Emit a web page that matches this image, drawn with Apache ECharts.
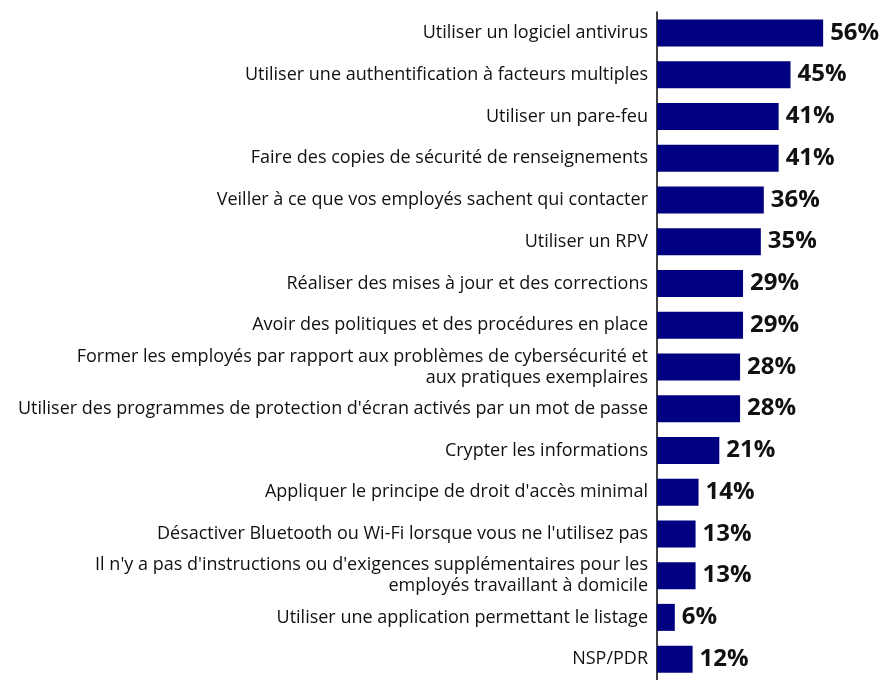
<!DOCTYPE html>
<html>
<head>
<meta charset="utf-8">
<script src="https://cdn.jsdelivr.net/npm/echarts@6/dist/echarts.min.js"></script>
<style>
  html, body { margin: 0; padding: 0; background: #fff; }
  #chart { width: 883px; height: 680px; }
</style>
</head>
<body>
<div id="chart"></div>
<script>
const categories = [
  "Utiliser un logiciel antivirus",
  "Utiliser une authentification à facteurs multiples",
  "Utiliser un pare-feu",
  "Faire des copies de sécurité de renseignements",
  "Veiller à ce que vos employés sachent qui contacter",
  "Utiliser un RPV",
  "Réaliser des mises à jour et des corrections",
  "Avoir des politiques et des procédures en place",
  "Former les employés par rapport aux problèmes de cybersécurité et\naux pratiques exemplaires",
  "Utiliser des programmes de protection d'écran activés par un mot de passe",
  "Crypter les informations",
  "Appliquer le principe de droit d'accès minimal",
  "Désactiver Bluetooth ou Wi-Fi lorsque vous ne l'utilisez pas",
  "Il n'y a pas d'instructions ou d'exigences supplémentaires pour les\nemployés travaillant à domicile",
  "Utiliser une application permettant le listage",
  "NSP/PDR"
];
const values = [56, 45, 41, 41, 36, 35, 29, 29, 28, 28, 21, 14, 13, 13, 6, 12];

const chart = echarts.init(document.getElementById("chart"));

const option = {
  animation: false,
  grid: {
    left: 657,
    top: 12,
    width: 178,
    height: 677
  },
  xAxis: {
    type: "value",
    min: 0,
    max: 60,
    show: false
  },
  yAxis: {
    type: "category",
    data: categories,
    inverse: true,
    axisLine: { show: true, lineStyle: { color: "#000", width: 1.5 } },
    axisTick: { show: false },
    axisLabel: {
      margin: 9,
      color: "#111",
      fontFamily: "Open Sans",
      fontSize: 18,
      lineHeight: 21,
      align: "right"
    }
  },
  series: [
    {
      type: "bar",
      data: values,
      barWidth: 27,
      itemStyle: { color: "#000080" },
      label: {
        show: true,
        position: "right",
        distance: 7,
        formatter: "{c}%",
        color: "#111",
        fontFamily: "Open Sans",
        fontWeight: "bold",
        fontSize: 24
      }
    }
  ]
};

chart.setOption(option);
</script>
</body>
</html>
